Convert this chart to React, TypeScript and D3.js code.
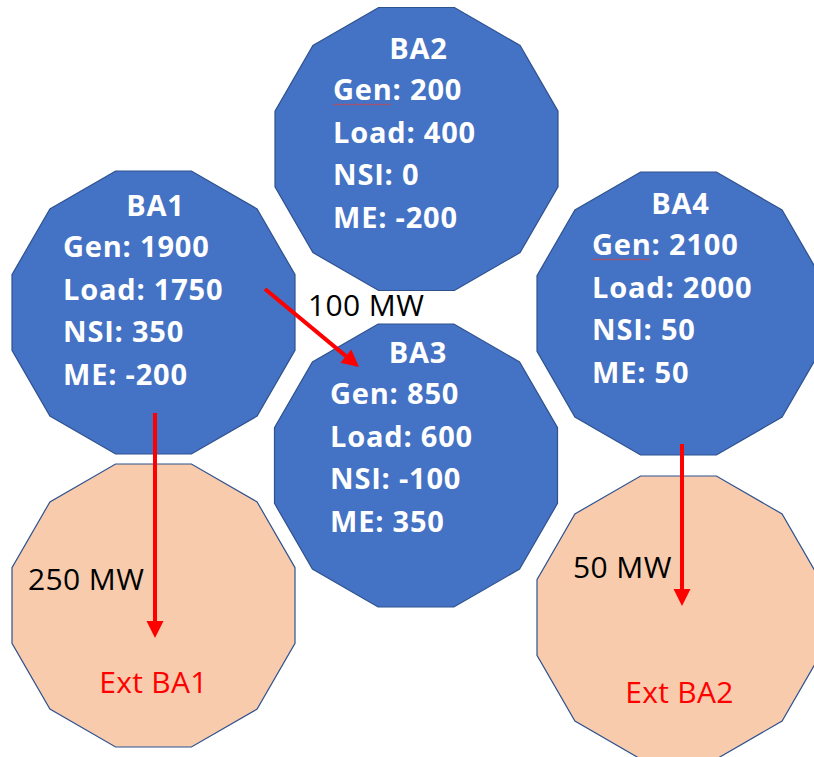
import { useEffect, useRef } from 'react';
import * as d3 from 'd3';

// balancing areas and their values
const areas = ['BA1', 'BA2', 'BA3', 'BA4'];
const gen = [1900, 200, 850, 2100];
const load = [1750, 400, 600, 2000];
const nsi = [350, 0, -100, 50];
const me = [-200, -200, 350, 50];

// external areas
const externals = ['Ext BA1', 'Ext BA2'];

// interchange flows (MW)
const flowFrom = ['BA1', 'BA1', 'BA4'];
const flowTo = ['BA3', 'Ext BA1', 'Ext BA2'];
const flowMW = [100, 250, 50];

// diagram layout (hand placed, like the slide)
const nodeLayout: Record<string, { cx: number; cy: number; tx: number; genY: number }> = {
  BA1: { cx: 153.5, cy: 312.5, tx: 63, genY: 257 },
  BA2: { cx: 416.5, cy: 149, tx: 333, genY: 100 },
  BA3: { cx: 416, cy: 465.5, tx: 330, genY: 404 },
  BA4: { cx: 678.5, cy: 313.5, tx: 592, genY: 255 },
  'Ext BA1': { cx: 153.5, cy: 605.5, tx: 0, genY: 693 },
  'Ext BA2': { cx: 679.5, cy: 617.5, tx: 0, genY: 703 },
};

const flowLayout = [
  { x1: 265, y1: 289, x2: 359, y2: 367, lx: 308, ly: 316 },
  { x1: 155, y1: 413, x2: 155, y2: 638, lx: 28, ly: 590 },
  { x1: 682, y1: 444, x2: 682, y2: 606, lx: 573, ly: 578 },
];

const width = 814;
const height = 757;
const inner = 141.5;
const font = "'Open Sans', 'Noto Sans', sans-serif";

export default function App() {
  const svgRef = useRef<SVGSVGElement>(null);

  useEffect(() => {
    const svg = d3.select(svgRef.current);
    svg.selectAll('*').remove();

    const R = inner / Math.cos(Math.PI / 12);
    const angles = d3.range(12).map(i => Math.PI / 12 + (i * Math.PI) / 6);
    const poly = d3.line<[number, number]>().curve(d3.curveLinearClosed);
    const dodecagon = (cx: number, cy: number) =>
      poly(angles.map(a => [cx + R * Math.cos(a), cy - R * Math.sin(a)] as [number, number]));

    // external areas first (behind arrows)
    externals.forEach(name => {
      const p = nodeLayout[name];
      svg.append('path')
        .attr('d', dodecagon(p.cx - (name === 'Ext BA2' ? 1 : 0), p.cy))
        .attr('fill', '#F8CBAD')
        .attr('stroke', '#2F528F')
        .attr('stroke-width', 1.2);
      svg.append('text')
        .attr('x', p.cx)
        .attr('y', p.genY)
        .attr('text-anchor', 'middle')
        .attr('fill', '#FF0000')
        .style('font-family', font)
        .style('font-size', '30px')
        .style('letter-spacing', '0.3px')
        .text(name);
    });

    areas.forEach((name, i) => {
      const p = nodeLayout[name];
      const g = svg.append('g');
      g.append('path')
        .attr('d', dodecagon(p.cx, p.cy))
        .attr('fill', '#4472C4')
        .attr('stroke', '#2F528F')
        .attr('stroke-width', 1.2);

      const txt = (x: number, y: number, s: string, anchor = 'start') =>
        g.append('text')
          .attr('x', x)
          .attr('y', y)
          .attr('text-anchor', anchor)
          .attr('fill', '#ffffff')
          .style('font-family', font)
          .style('font-weight', '700')
          .style('font-size', '29px')
          .style('letter-spacing', '0.8px')
          .text(s);

      txt(p.cx + 2, p.genY - 41, name, 'middle');
      const lines = [`Gen: ${gen[i]}`, `Load: ${load[i]}`, `NSI: ${nsi[i]}`, `ME: ${me[i]}`];
      lines.forEach((s, j) => txt(p.tx, p.genY + j * 42.5, s));

      // spell-check squiggle under "Gen" on BA2 and BA4
      if (name === 'BA2' || name === 'BA4') {
        const pts: [number, number][] = d3.range(0, 60, 2).map((dx, k) => [p.tx + dx, p.genY + 4 + (k % 2)]);
        g.append('path')
          .attr('d', d3.line()(pts))
          .attr('fill', 'none')
          .attr('stroke', '#E0403A')
          .attr('stroke-width', 0.8);
      }
    });

    // arrows
    const headLen = 17;
    const headW = 17;
    flowMW.forEach((mw, i) => {
      const f = flowLayout[i];
      const ang = Math.atan2(f.y2 - f.y1, f.x2 - f.x1);
      const bx = f.x2 - headLen * Math.cos(ang);
      const by = f.y2 - headLen * Math.sin(ang);
      svg.append('line')
        .attr('x1', f.x1)
        .attr('y1', f.y1)
        .attr('x2', bx)
        .attr('y2', by)
        .attr('stroke', '#FF0000')
        .attr('stroke-width', 4);
      const nx = -Math.sin(ang) * headW / 2;
      const ny = Math.cos(ang) * headW / 2;
      svg.append('path')
        .attr('d', d3.line()([[f.x2, f.y2], [bx + nx, by + ny], [bx - nx, by - ny]]) + 'Z')
        .attr('fill', '#FF0000');

      svg.append('text')
        .attr('x', f.lx)
        .attr('y', f.ly)
        .attr('fill', '#000000')
        .style('font-family', font)
        .style('font-size', '30px')
        .style('letter-spacing', '0.4px')
        .attr('data-from', flowFrom[i])
        .attr('data-to', flowTo[i])
        .text(`${mw} MW`);
    });
  }, []);

  return (
    <svg
      ref={svgRef}
      width={width}
      height={height}
      style={{ position: 'absolute', left: 0, top: 0, background: '#ffffff' }}
    />
  );
}
